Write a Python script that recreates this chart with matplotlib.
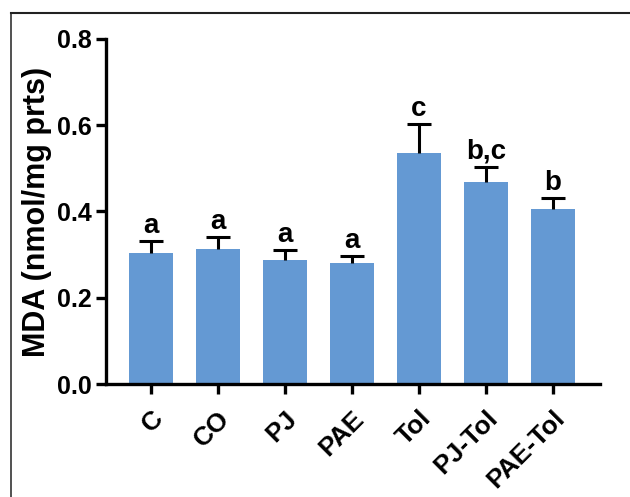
import matplotlib
matplotlib.use("Agg")
import matplotlib.pyplot as plt
from matplotlib.lines import Line2D
import numpy as np

# MDA levels per group (mean and SEM), with significance letters
groups = ['C', 'CO', 'PJ', 'PAE', 'Tol', 'PJ-Tol', 'PAE-Tol']
mda_mean = [0.304, 0.312, 0.288, 0.281, 0.535, 0.469, 0.406]
mda_sem = [0.028, 0.029, 0.023, 0.016, 0.067, 0.034, 0.025]
letters = ['a', 'a', 'a', 'a', 'c', 'b,c', 'b']

plt.rcParams['font.family'] = ['Liberation Sans', 'DejaVu Sans']
plt.rcParams['font.weight'] = 'bold'

fig = plt.figure(figsize=(6.30, 4.97), dpi=100)
ax = fig.add_axes([0.168, 0.227, 0.784, 0.695])

x = np.arange(len(groups))
mean = np.array(mda_mean)
top = mean + np.array(mda_sem)
ax.bar(x, mean, width=0.66, color='#6499d3', zorder=2)

# upper-only error bars
ax.vlines(x, mean, top, color='black', lw=2.2, zorder=3)
ax.hlines(top, x - 0.18, x + 0.18, color='black', lw=2.2, zorder=3)

for xi, t, lab in zip(x, top, letters):
    ax.text(xi, t + 0.005, lab, ha='center', va='bottom',
            fontsize=20, fontweight='bold')

ax.set_xlim(-0.67, 6.7)
ax.set_ylim(0, 0.8)
ax.set_yticks([0.0, 0.2, 0.4, 0.6, 0.8])
ax.set_yticklabels(['0.0', '0.2', '0.4', '0.6', '0.8'])
ax.set_xticks(x)
ax.set_xticklabels(groups, rotation=45, ha='right', rotation_mode='anchor')
ax.set_ylabel('MDA (nmol/mg prts)', fontsize=22, fontweight='bold', labelpad=4)

for side in ['top', 'right']:
    ax.spines[side].set_visible(False)
for side in ['left', 'bottom']:
    ax.spines[side].set_linewidth(2.4)
ax.tick_params(axis='both', width=2.4, length=7)
ax.tick_params(axis='y', labelsize=18, pad=3)
ax.tick_params(axis='x', labelsize=19, pad=9)

# thin frame around the figure (top and left edges)
fig.add_artist(Line2D([10.5 / 630, 10.5 / 630], [0, 1 - 13 / 497],
                      transform=fig.transFigure, color='#333333', lw=1.2))
fig.add_artist(Line2D([10.5 / 630, 1], [1 - 13 / 497, 1 - 13 / 497],
                      transform=fig.transFigure, color='#222222', lw=1.5))

fig.savefig('out.png', dpi=100)
